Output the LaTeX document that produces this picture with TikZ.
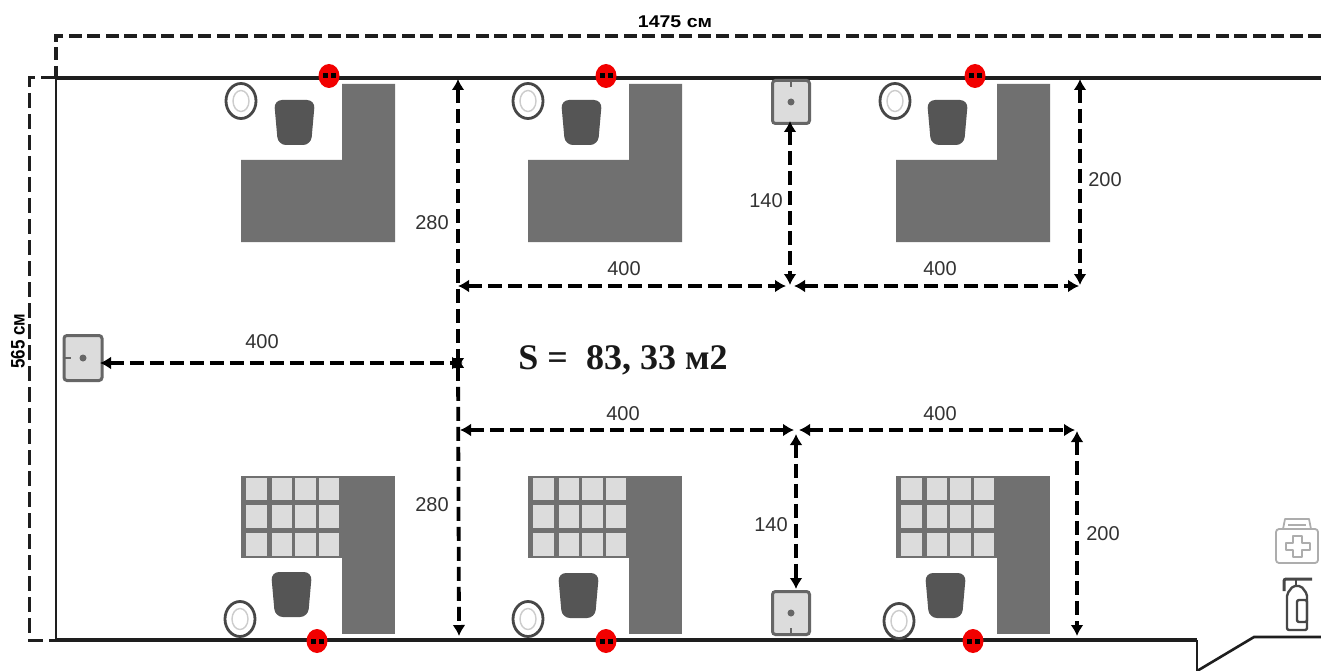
\documentclass[tikz,border=0pt]{standalone}
\usepackage{fontspec}
\setmainfont{Liberation Sans}
\newfontfamily\serifbold{Liberation Serif}
\usetikzlibrary{arrows.meta,shapes.geometric}
\definecolor{deskgray}{HTML}{707070}
\definecolor{chairgray}{HTML}{555555}
\definecolor{cellgray}{HTML}{DCDCDC}
\definecolor{linegray}{HTML}{666666}
\definecolor{wallblack}{HTML}{1E1E1E}
\definecolor{labelgray}{HTML}{333333}
\tikzset{
  x=1pt,y=-1pt,
  wall/.style={line width=3.6pt,draw=wallblack,line join=miter},
  thinwall/.style={line width=2.6pt,draw=wallblack,line join=miter},
  outerdash/.style={line width=4.4pt,draw=wallblack,dash pattern=on 13pt off 5.5pt},
  sidedash/.style={line width=3pt,draw=wallblack,dash pattern=on 15pt off 6pt},
  dim/.style={line width=3.8pt,black,dash pattern=on 14pt off 6pt,
    {Latex[length=11pt,width=13pt,sep=0pt]}-{Latex[length=11pt,width=13pt,sep=0pt]}},
  dimlabel/.style={font=\fontsize{20}{24}\selectfont,text=labelgray,inner sep=0pt},
  boldlabel/.style={font=\fontsize{17}{20}\selectfont\bfseries,text=black,inner sep=0pt,xscale=1.15},
  desk/.style={fill=deskgray,draw=none},
  seat/.style={fill=chairgray,draw=none,rounded corners=8pt},
  cellbox/.style={fill=cellgray,draw=none},
  lampo/.style={ellipse,draw=linegray!70!black,line width=2.8pt,fill=white,minimum width=30pt,minimum height=35pt,inner sep=0pt},
  lampi/.style={ellipse,draw=black!20,line width=1.4pt,fill=white,minimum width=16pt,minimum height=21pt,inner sep=0pt},
  socket/.style={ellipse,fill=red!95!black,draw=none,minimum width=21pt,minimum height=24pt,inner sep=0pt},
  sinkbox/.style={rectangle,rounded corners=3pt,fill=cellgray,draw=linegray,line width=3pt,inner sep=0pt},
  hole/.style={circle,fill=linegray,draw=none,minimum size=7pt,inner sep=0pt},
  icongray/.style={draw=black!32,line width=1.8pt,line join=round},
  icondark/.style={draw=black!72,line width=2.4pt,line join=round,rounded corners=2pt},
  pics/deskL/.style={code={
    \fill[desk] (101,0)--(154,0)--(154,158)--(0,158)--(0,76)--(101,76)--cycle;
  }},
  pics/deskG/.style={code={
    \fill[desk] (101,0) rectangle (154,158);
    \fill[desk] (0,0) rectangle (101,82);
    \foreach \cx/\cw in {5/21,31/20,54/21,78/20}{
      \foreach \cy/\ch in {2/22,29/23,57/23}{
        \fill[cellbox] (\cx,\cy) rectangle ++(\cw,\ch);
      }
    }
  }},
  pics/seatshape/.style={code={
    \fill[seat] (0,0)--(41,0)--(37,45)--(4,45)--cycle;
  }},
  pics/eyes/.style={code={
    \fill[black] (-6,-2.5) rectangle (-1.5,2.5);
    \fill[black] (2,-2.5) rectangle (6.5,2.5);
  }},
}
\begin{document}
\begin{tikzpicture}
\useasboundingbox (0,0) rectangle (1321,671);
\fill[white] (0,0) rectangle (1321,671);

% named corner points
\coordinate (wTL) at (56,78);
\coordinate (wTR) at (1321,78);
\coordinate (wBL) at (56,640);
\coordinate (wBR) at (1197,640);
\coordinate (doorA) at (1197,671);
\coordinate (doorB) at (1254,637);
\coordinate (doorC) at (1321,637);
\coordinate (oTR) at (1321,36);
\coordinate (oTL) at (56,36);
\coordinate (sTL) at (29,78);
\coordinate (sBL) at (29,640);

% outer dimension lines
\draw[outerdash] (oTR) -- (oTL) -- (wTL);
\draw[sidedash] (wTL) -- (sTL) -- (sBL) -- (wBL);

% walls
\draw[wall] (wTR) -- (wTL);
\draw[thinwall] (wTL) -- (wBL);
\draw[wall] (wBL) -- (wBR);
\draw[thinwall] (wBR) -- (doorA);
\draw[thinwall] (doorA) -- (doorB) -- (doorC);

% desks
\pic at (241,84) {deskL};
\pic at (528,84) {deskL};
\pic at (896,84) {deskL};
\pic at (241,476) {deskG};
\pic at (528,476) {deskG};
\pic at (896,476) {deskG};

% chairs
\pic at (274,100) {seatshape};
\pic at (561,100) {seatshape};
\pic at (927,100) {seatshape};
\pic at (271,572) {seatshape};
\pic at (558,573) {seatshape};
\pic at (925,573) {seatshape};

% round lamps
\foreach \nm/\px/\py in {a/241/101,b/528/101,c/895/101,d/240/619,e/528/619,f/899/621}{
  \node[lampo] (lamp\nm) at (\px,\py) {};
  \node[lampi] (lampin\nm) at (\px,\py) {};
}

% red sockets
\foreach \nm/\px/\py in {a/329/76,b/606/76,c/975/76,d/317/641,e/606/641,f/973/641}{
  \node[socket] (sock\nm) at (\px,\py) {};
  \pic at (\px,\py) {eyes};
}

% sinks
\node[sinkbox,minimum width=37pt,minimum height=43pt] (sinkT) at (791,102) {};
\node[hole] (holeT) at (791,102) {};
\draw[linegray,line width=2pt] (sinkT.north) -- ++(0,8);
\node[sinkbox,minimum width=37pt,minimum height=43pt] (sinkB) at (791,613) {};
\node[hole] (holeB) at (791,613) {};
\draw[linegray,line width=2pt] (sinkB.south) -- ++(0,-8);
\node[sinkbox,minimum width=38pt,minimum height=45pt] (sinkL) at (83,358) {};
\node[hole] (holeL) at (83,358) {};
\draw[linegray,line width=2pt] (sinkL.west) -- ++(8,0);

% dimension points
\coordinate (a1) at (458,79);
\coordinate (a2) at (458,369);
\coordinate (a3) at (458,357);
\coordinate (a4) at (459,636);
\coordinate (b1) at (458,286);
\coordinate (b2) at (786,286);
\coordinate (b3) at (794,286);
\coordinate (b4) at (1079,286);
\coordinate (c1) at (790,285);
\coordinate (t1) at (790,121);
\coordinate (d1) at (1080,79);
\coordinate (d2) at (1080,285);
\coordinate (e1) at (463,363);
\coordinate (l1) at (100,363);
\coordinate (f1) at (460,430);
\coordinate (f2) at (794,430);
\coordinate (f3) at (799,430);
\coordinate (f4) at (1075,430);
\coordinate (g1) at (796,434);
\coordinate (g2) at (796,589);
\coordinate (h1) at (1077,431);
\coordinate (h2) at (1077,636);

\draw[dim] (a1) -- (a2);
\draw[dim] (a3) -- (a4);
\draw[dim] (b1) -- (b2);
\draw[dim] (b3) -- (b4);
\draw[dim] (t1) -- (c1);
\draw[dim] (d1) -- (d2);
\draw[dim] (l1) -- (e1);
\draw[dim] (f1) -- (f2);
\draw[dim] (f3) -- (f4);
\draw[dim] (g1) -- (g2);
\draw[dim] (h1) -- (h2);

% labels
\node[boldlabel] (topL) at (675,22) {1475 см};
\node[boldlabel,rotate=90] (sideL) at (18,341) {565 см};
\node[dimlabel] (n1) at (262,342) {400};
\node[dimlabel] (n2) at (624,269) {400};
\node[dimlabel] (n3) at (940,269) {400};
\node[dimlabel] (n4) at (623,414) {400};
\node[dimlabel] (n5) at (940,414) {400};
\node[dimlabel] (n6) at (432,223) {280};
\node[dimlabel] (n7) at (432,505) {280};
\node[dimlabel] (n8) at (766,201) {140};
\node[dimlabel] (n9) at (771,525) {140};
\node[dimlabel] (n10) at (1105,180) {200};
\node[dimlabel] (n11) at (1103,534) {200};
\node[inner sep=0pt,text=black!90] (area) at (623,360) {\serifbold\fontsize{36}{42}\selectfont\bfseries S =\ \ 83, 33 м2};

% first-aid kit
\draw[icongray,rounded corners=3pt] (1276,529) rectangle (1318,563);
\draw[icongray] (1283,529) -- (1285,519) -- (1309,519) -- (1311,529);
\draw[icongray] (1288,525) -- (1306,525);
\draw[icongray] (1293,536) -- (1302,536) -- (1302,543) -- (1310,543) -- (1310,550) -- (1302,550) -- (1302,557) -- (1293,557) -- (1293,550) -- (1286,550) -- (1286,543) -- (1293,543) -- cycle;

% extinguisher
\draw[icondark] (1287,630) -- (1287,594) -- (1293,586) -- (1301,586) -- (1307,594) -- (1307,630) -- cycle;
\draw[icondark] (1297,600) -- (1307,600) -- (1307,622) -- (1297,622) -- cycle;
\draw[icondark,line width=3pt] (1284,591) -- (1284,579) -- (1312,579);
\draw[icondark] (1296,579) -- (1296,586);
\end{tikzpicture}
\end{document}
